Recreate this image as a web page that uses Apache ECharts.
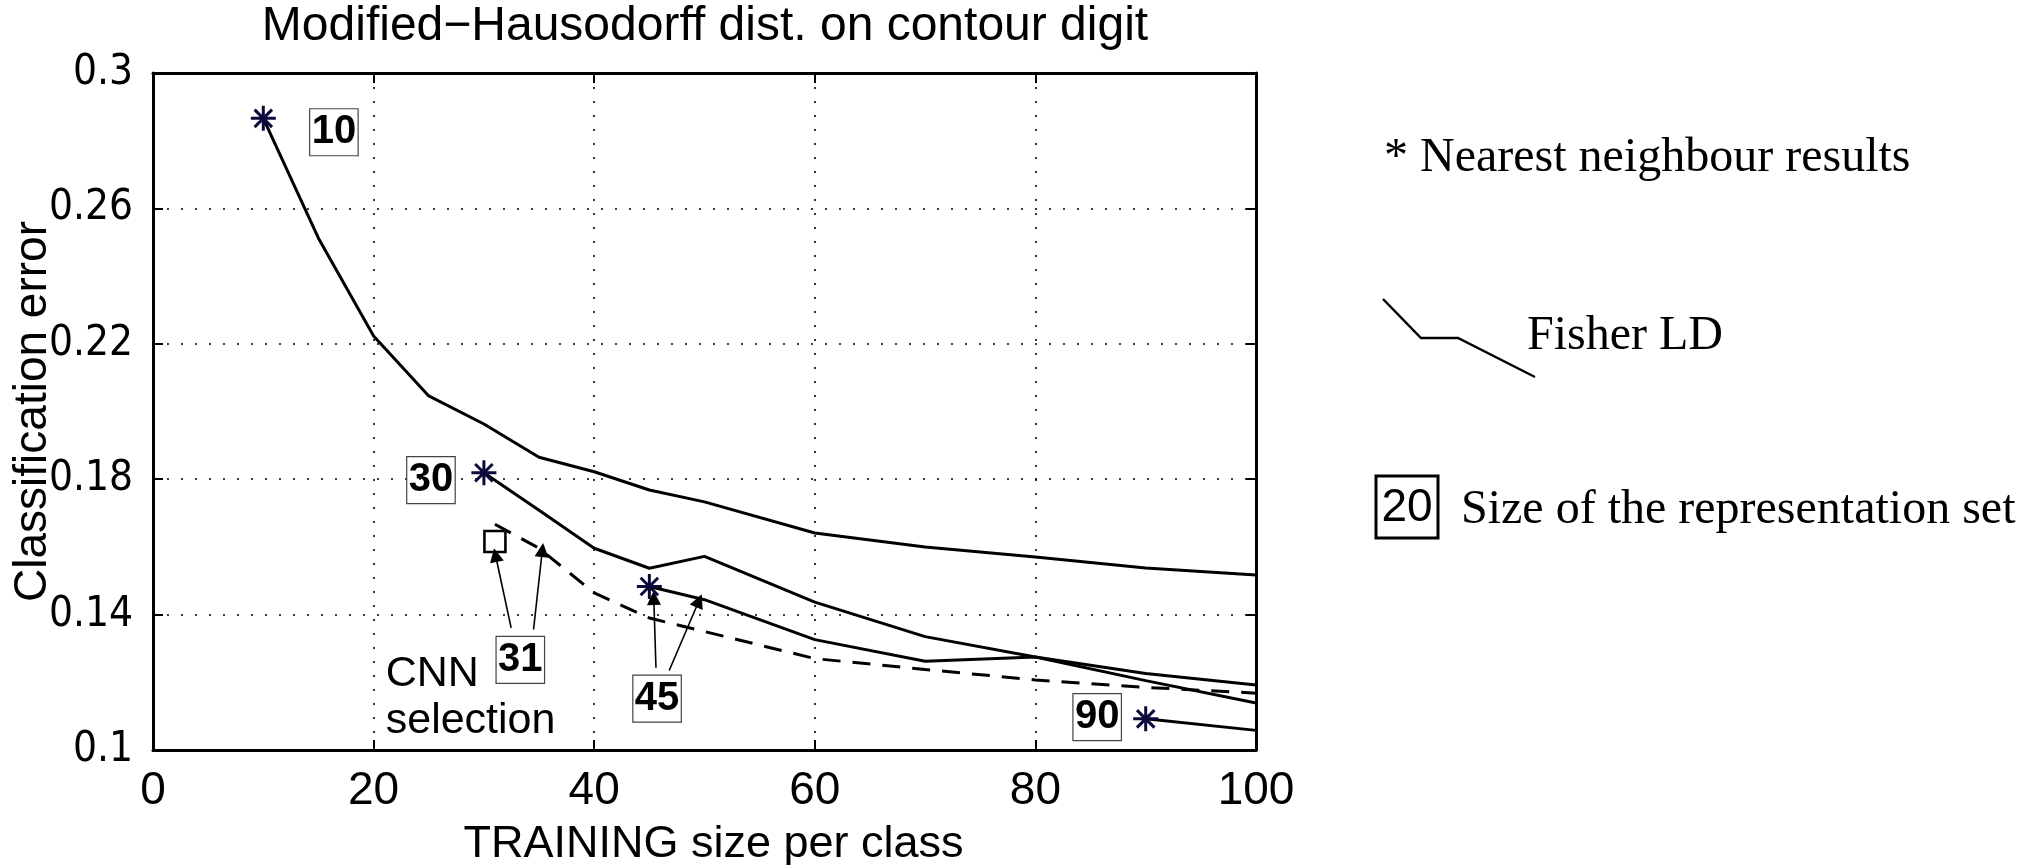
<!DOCTYPE html>
<html>
<head>
<meta charset="utf-8">
<script src="https://cdn.jsdelivr.net/npm/echarts@6/dist/echarts.min.js"></script>
<style>
  html, body { margin: 0; padding: 0; background: #fff; }
  #chart { width: 2040px; height: 865px; }
</style>
</head>
<body>
<div id="chart"></div>
<script>
// Classification error versus training size per class, one curve per representation set size
const rep10X = [10, 15, 20, 25, 30, 35, 40, 45, 50, 60, 70, 80, 90, 100];
const rep10Y = [0.2866, 0.2512, 0.2223, 0.2046, 0.1963, 0.1865, 0.1822, 0.1768, 0.1733, 0.1641, 0.1600, 0.1570, 0.1538, 0.1517];
const rep30X = [30, 35, 40, 45, 50, 60, 70, 80, 90, 100];
const rep30Y = [0.1819, 0.1708, 0.1596, 0.1537, 0.1572, 0.1437, 0.1335, 0.1275, 0.1226, 0.1192];
const rep45X = [45, 50, 60, 70, 80, 90, 100];
const rep45Y = [0.1483, 0.1444, 0.1326, 0.1262, 0.1275, 0.1205, 0.1139];
const rep90X = [90, 100];
const rep90Y = [0.1092, 0.1058];
// CNN-selected representation set (31 objects), dashed curve
const cnnX = [31, 35, 40, 45, 50, 60, 70, 80, 90, 100];
const cnnY = [0.1667, 0.1596, 0.1464, 0.1390, 0.1350, 0.1270, 0.1238, 0.1207, 0.1185, 0.1168];
// Nearest neighbour results (asterisks)
const nnX = [10, 30, 45, 90];
const nnY = [0.2866, 0.1819, 0.1483, 0.1092];
// CNN nearest neighbour result (square)
const cnnNNX = [31];
const cnnNNY = [0.1616];
// Axis ticks
const xTicks = [0, 20, 40, 60, 80, 100];
const yTicks = [0.1, 0.14, 0.18, 0.22, 0.26, 0.3];
// Boxed size labels, anchored in data units
const boxText = ['10', '30', '31', '45', '90'];
const boxAtX = [16.4, 25.2, 33.3, 45.7, 85.6];
const boxAtY = [0.2825, 0.1797, 0.1266, 0.1152, 0.1097];
// Arrows from the size labels to the marks they refer to (data units)
const arrowFromX = [32.47, 34.5, 45.6, 46.8];
const arrowFromY = [0.1361, 0.1356, 0.1243, 0.1235];
const arrowToX = [31.05, 35.3, 45.4, 49.5];
const arrowToY = [0.1576, 0.1591, 0.1449, 0.1441];
// Free text inside the plot
const noteText = ['CNN', 'selection'];
const noteAtX = [21.1];
const noteAtY = [0.1155];

const pairs = (xs, ys) => xs.map((x, i) => [x, ys[i]]);
const SANS = '"Liberation Sans", Arial, Helvetica, sans-serif';
const NARROW = '"Liberation Sans Narrow", "Arial Narrow", "DejaVu Sans Condensed", "Liberation Sans", sans-serif';
const SERIF = '"Liberation Serif", "Times New Roman", serif';

const xMin = xTicks[0], xMax = xTicks[xTicks.length - 1];
const xStep = xTicks[1] - xTicks[0];
const yMin = yTicks[0], yMax = yTicks[yTicks.length - 1];
const yStep = +(yTicks[1] - yTicks[0]).toFixed(4);

const frameLine = { show: true, onZero: false, lineStyle: { color: '#000', width: 3 } };
const innerTick = { show: true, inside: true, length: 10, lineStyle: { color: '#000', width: 2 } };
const dotted = { show: true, lineStyle: { color: '#000', width: 1.6, type: [2, 12] } };
const hidden = { color: 'rgba(0,0,0,0)', opacity: 1 };

const curveLine = (name, xs, ys, dashed) => ({
  name,
  type: 'line',
  data: pairs(xs, ys),
  showSymbol: false,
  symbol: 'none',
  silent: true,
  z: 3,
  lineStyle: { color: '#000', width: 3, type: dashed ? [18, 12] : 'solid' },
  emphasis: { disabled: true }
});

const chart = echarts.init(document.getElementById('chart'), null, { renderer: 'canvas' });

chart.setOption({
  animation: false,
  backgroundColor: '#fff',
  grid: { left: 153, right: 784, top: 73, bottom: 115, containLabel: false, outerBoundsMode: 'none' },
  xAxis: [
    {
      type: 'value', position: 'bottom', min: xMin, max: xMax, interval: xStep,
      axisLine: frameLine, axisTick: innerTick, splitLine: dotted,
      axisLabel: { show: true, margin: 18, fontSize: 46, fontFamily: SANS, color: '#000' },
      name: 'TRAINING size per class', nameLocation: 'middle', nameGap: 72, nameMoveOverlap: false,
      nameTextStyle: { fontSize: 45, fontFamily: SANS, color: '#000', padding: [0, 0, 0, 18] }
    },
    {
      type: 'value', position: 'top', min: xMin, max: xMax, interval: xStep,
      axisLine: frameLine, axisTick: innerTick, splitLine: { show: false },
      axisLabel: { show: false }
    }
  ],
  yAxis: [
    {
      type: 'value', position: 'left', min: yMin, max: yMax, interval: yStep,
      axisLine: frameLine, axisTick: innerTick, splitLine: dotted,
      axisLabel: {
        show: true, margin: 20, fontSize: 42, fontFamily: NARROW, color: '#000',
        formatter: v => String(+v.toFixed(2))
      },
      name: 'Classification error', nameLocation: 'middle', nameGap: 97, nameMoveOverlap: false,
      nameTextStyle: { fontSize: 46, fontFamily: SANS, color: '#000' }
    },
    {
      type: 'value', position: 'right', min: yMin, max: yMax, interval: yStep,
      axisLine: frameLine, axisTick: innerTick, splitLine: { show: false },
      axisLabel: { show: false }
    }
  ],
  series: [
    curveLine('size 10', rep10X, rep10Y, false),
    curveLine('size 30', rep30X, rep30Y, false),
    curveLine('size 45', rep45X, rep45Y, false),
    curveLine('size 90', rep90X, rep90Y, false),
    curveLine('CNN selection', cnnX, cnnY, true),
    {
      name: 'arrows',
      type: 'lines',
      coordinateSystem: 'cartesian2d',
      silent: true,
      z: 4,
      symbol: ['none', 'triangle'],
      symbolSize: 14,
      lineStyle: { color: '#000', width: 1.6, opacity: 1, curveness: 0 },
      itemStyle: { color: '#000', opacity: 1 },
      data: arrowFromX.map((x, i) => ({
        coords: [[x, arrowFromY[i]], [arrowToX[i], arrowToY[i]]]
      }))
    },
    {
      name: 'Nearest neighbour',
      type: 'scatter',
      silent: true,
      z: 6,
      data: pairs(nnX, nnY),
      symbol: 'path://M10,0L10,20M0,10L20,10M3,3L17,17M3,17L17,3',
      symbolSize: 25,
      itemStyle: { color: 'rgba(0,0,0,0)', opacity: 1, borderColor: '#0a0a3a', borderWidth: 3 },
      emphasis: { disabled: true }
    },
    {
      name: 'CNN nearest neighbour',
      type: 'scatter',
      silent: true,
      z: 6,
      data: pairs(cnnNNX, cnnNNY),
      symbol: 'rect',
      symbolSize: 21,
      itemStyle: { color: 'rgba(0,0,0,0)', opacity: 1, borderColor: '#000', borderWidth: 2.6 },
      emphasis: { disabled: true }
    },
    {
      name: 'size labels',
      type: 'scatter',
      silent: true,
      z: 7,
      symbol: 'circle',
      symbolSize: 1,
      itemStyle: hidden,
      data: boxAtX.map((x, i) => [x, boxAtY[i], boxText[i]]),
      label: {
        show: true,
        position: 'inside',
        formatter: p => p.data[2],
        fontSize: 40,
        fontWeight: 'bold',
        fontFamily: SANS,
        color: '#000',
        opacity: 1,
        textBorderWidth: 0,
        lineHeight: 40,
        padding: [5, 2, 2, 2],
        borderColor: '#444',
        borderWidth: 1.2
      },
      emphasis: { disabled: true }
    },
    {
      name: 'note',
      type: 'scatter',
      silent: true,
      z: 7,
      symbol: 'circle',
      symbolSize: 1,
      itemStyle: hidden,
      data: [[noteAtX[0], noteAtY[0]]],
      label: {
        show: true,
        position: 'inside',
        align: 'left',
        verticalAlign: 'middle',
        formatter: noteText.join('\n'),
        fontSize: 43,
        lineHeight: 47,
        fontFamily: SANS,
        color: '#000',
        opacity: 1,
        textBorderWidth: 0
      },
      emphasis: { disabled: true }
    }
  ],
  graphic: [
    {
      type: 'text', x: 705, y: 27, silent: true,
      style: {
        text: 'Modified\u2212Hausodorff dist. on contour digit',
        font: '48px ' + SANS, fill: '#000',
        align: 'center', verticalAlign: 'middle',
        textAlign: 'center', textVerticalAlign: 'middle'
      }
    },
    {
      type: 'text', x: 1384, y: 158, silent: true,
      style: {
        text: '* Nearest neighbour results', font: '48px ' + SERIF, fill: '#000',
        align: 'left', verticalAlign: 'middle', textAlign: 'left', textVerticalAlign: 'middle'
      }
    },
    {
      type: 'polyline', silent: true,
      shape: { points: [[1383, 299], [1421, 338], [1458, 338], [1535, 377]] },
      style: { stroke: '#000', lineWidth: 2.5, fill: null }
    },
    {
      type: 'text', x: 1527, y: 336, silent: true,
      style: {
        text: 'Fisher LD', font: '48px ' + SERIF, fill: '#000',
        align: 'left', verticalAlign: 'middle', textAlign: 'left', textVerticalAlign: 'middle'
      }
    },
    {
      type: 'rect', silent: true,
      shape: { x: 1376, y: 476, width: 62, height: 62 },
      style: { stroke: '#000', lineWidth: 3, fill: null }
    },
    {
      type: 'text', x: 1407, y: 508, silent: true,
      style: {
        text: '20', font: '46px ' + SANS, fill: '#000',
        align: 'center', verticalAlign: 'middle', textAlign: 'center', textVerticalAlign: 'middle'
      }
    },
    {
      type: 'text', x: 1461, y: 510, silent: true,
      style: {
        text: 'Size of the representation set', font: '48px ' + SERIF, fill: '#000',
        align: 'left', verticalAlign: 'middle', textAlign: 'left', textVerticalAlign: 'middle'
      }
    }
  ]
});
</script>
</body>
</html>
